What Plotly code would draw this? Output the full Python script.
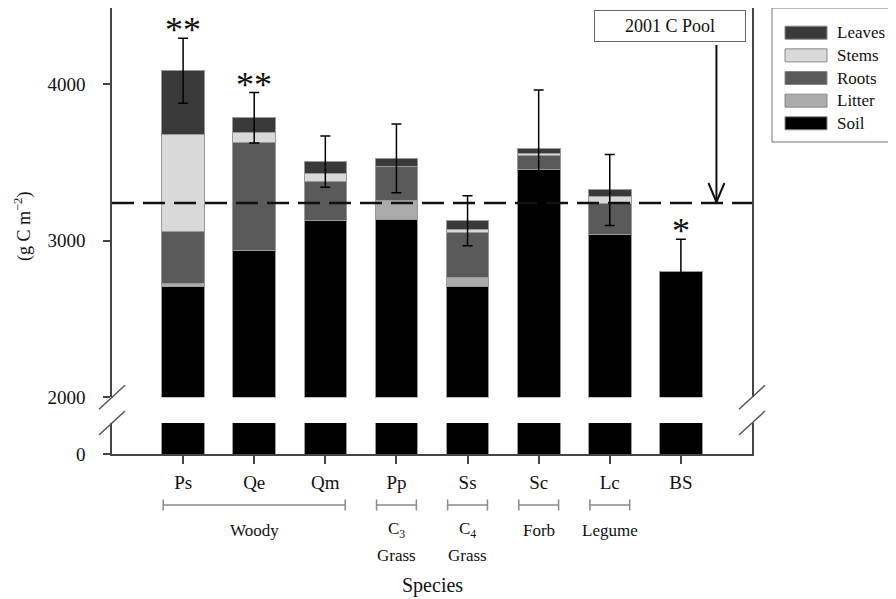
import plotly.graph_objects as go

# ---------------- data ----------------
species = ["Ps", "Qe", "Qm", "Pp", "Ss", "Sc", "Lc", "BS"]
soil   = [2706, 2934, 3131, 3136, 2710, 3451, 3040, 2802]
litter = [21, 0, 0, 117, 56, 0, 0, 0]
roots  = [334, 691, 248, 219, 284, 89, 198, 0]
stems  = [613, 66, 51, 0, 18, 17, 42, 0]
leaves = [410, 93, 74, 53, 59, 30, 43, 0]
errors = [208, 161, 164, 219, 160, 374, 227, 206]
signif = ["**", "**", "", "", "", "", "", "*"]
pool_2001 = 3240
pool_label = "2001 C Pool"

series_names = ["Soil", "Litter", "Roots", "Stems", "Leaves"]
series_values = [soil, litter, roots, stems, leaves]
series_colors = ["#000000", "#ababab", "#5a5a5a", "#d9d9d9", "#3a3a3a"]

groups = [
    ("Woody", "", "Ps", "Qm"),
    ("C<sub>3</sub>", "Grass", "Pp", "Pp"),
    ("C<sub>4</sub>", "Grass", "Ss", "Ss"),
    ("Forb", "", "Sc", "Sc"),
    ("Legume", "", "Lc", "Lc"),
]

# ---------------- layout geometry (page pixels; page has an 8px body margin) ----------------
OFF = 8
W, H = 896 - OFF, 599 - OFF
PLOT_L, PLOT_R, PLOT_T, PLOT_B = 112, 752, 8, 454
L, R, T, B = PLOT_L - OFF, 896 - PLOT_R, PLOT_T - OFF, 599 - PLOT_B
PW, PH = PLOT_R - PLOT_L, PLOT_B - PLOT_T
FONT = "Liberation Serif"
AX = "#444444"
TXT = "#111111"


def px(x):
    return (x - PLOT_L) / PW


def py(y):
    return (PLOT_B - y) / PH


Y2000_PX, PX_PER_UNIT = 397.3, 0.1567
up_dom = [py(Y2000_PX), 1.0]
lo_dom = [0.0, py(423)]
up_top = 2000 + (Y2000_PX - PLOT_T) / PX_PER_UNIT

totals = [sum(v[i] for v in series_values) for i in range(len(species))]

fig = go.Figure()

# upper panel stacked bars
for name, vals, col in zip(series_names, series_values, series_colors):
    fig.add_trace(go.Bar(
        x=species, y=vals, name=name, xaxis="x2", yaxis="y",
        marker=dict(color=col, line=dict(color="#9a9a9a", width=1)),
        width=0.6, showlegend=False,
    ))

# lower panel (soil continues below the break)
fig.add_trace(go.Bar(
    x=species, y=soil, xaxis="x", yaxis="y2",
    marker=dict(color="#000000", line=dict(color="#9a9a9a", width=1)),
    width=0.6, showlegend=False,
))

# error bars at totals
fig.add_trace(go.Scatter(
    x=species, y=totals, xaxis="x2", yaxis="y", mode="markers",
    marker=dict(size=1, opacity=0), showlegend=False,
    error_y=dict(type="data", array=errors, color="#000000", thickness=1.5, width=5),
))

shapes = []
annotations = []

# 2001 pool dashed line
shapes.append(dict(type="line", xref="x2 domain", x0=0, x1=1, yref="y",
                   y0=pool_2001, y1=pool_2001,
                   line=dict(color="#111111", width=2.5, dash="22px,9px")))

# arrow from the label box to the pool line
arrow_x = 7.5
shapes.append(dict(type="line", xref="x2", xsizemode="pixel", xanchor=arrow_x, x0=0, x1=0,
                   yref="y", ysizemode="pixel", yanchor=pool_2001, y0=1, y1=158,
                   line=dict(color="#111111", width=2)))
for dx in (-8, 8):
    shapes.append(dict(type="line", xref="x2", xsizemode="pixel", xanchor=arrow_x, x0=0, x1=dx,
                       yref="y", ysizemode="pixel", yanchor=pool_2001, y0=1, y1=20,
                       line=dict(color="#111111", width=2)))

annotations.append(dict(text=pool_label, xref="paper", yref="paper",
                        x=px(670), y=py(26.5), xanchor="center", yanchor="middle",
                        showarrow=False, width=148, height=28, borderpad=1,
                        bordercolor="#666666", borderwidth=1, bgcolor="white",
                        font=dict(family=FONT, size=18, color=TXT)))

# significance stars
for sp, tot, err, s in zip(species, totals, errors, signif):
    if s:
        annotations.append(dict(text=s, x=sp, y=tot + err, xref="x2", yref="y",
                                showarrow=False, xanchor="center", yanchor="middle", yshift=8,
                                font=dict(family=FONT, size=36, color=TXT)))

# axis break marks
for xa in (0, 1):
    for ya in (up_dom[0], lo_dom[1]):
        shapes.append(dict(type="line", xref="paper", xsizemode="pixel", xanchor=xa,
                           x0=-13, x1=13, yref="paper", ysizemode="pixel", yanchor=ya,
                           y0=-12, y1=12, line=dict(color="#555555", width=1.5)))

# group brackets and labels under the x axis
idx = {s: i for i, s in enumerate(species)}
pad = 0.28
for line1, line2, a, b in groups:
    x0, x1 = idx[a] - pad, idx[b] + pad
    shapes.append(dict(type="line", xref="x", x0=x0, x1=x1, yref="paper",
                       y0=py(505), y1=py(505), line=dict(color="#8a8a8a", width=1.5)))
    for xe in (x0, x1):
        shapes.append(dict(type="line", xref="x", x0=xe, x1=xe, yref="paper",
                           y0=py(499.5), y1=py(510.5), line=dict(color="#8a8a8a", width=1.5)))
    for txt, ypix in ((line1, 530), (line2, 555)):
        if txt:
            annotations.append(dict(text=txt, x=(x0 + x1) / 2, xref="x", y=py(ypix),
                                    yref="paper", xanchor="center", yanchor="middle",
                                    showarrow=False,
                                    font=dict(family=FONT, size=17, color=TXT)))

# axis titles
annotations.append(dict(text="Species", x=px(432), xref="paper", y=py(585), yref="paper",
                        xanchor="center", yanchor="middle",
                        showarrow=False, font=dict(family=FONT, size=20, color=TXT)))
annotations.append(dict(text="(g C m<sup>\u22122</sup>)", x=px(23), xref="paper",
                        y=py(227), yref="paper", textangle=-90, showarrow=False,
                        xanchor="center", yanchor="middle",
                        font=dict(family=FONT, size=18, color=TXT)))

# legend (manual, top-to-bottom Leaves .. Soil)
shapes.append(dict(type="rect", xref="paper", yref="paper",
                   x0=px(772), x1=px(900), y0=py(142), y1=py(8),
                   line=dict(color="#777777", width=1), fillcolor="white"))
leg_names = series_names[::-1]
leg_colors = series_colors[::-1]
for k, (nm, col) in enumerate(zip(leg_names, leg_colors)):
    yc = 32.7 + 22.65 * k
    shapes.append(dict(type="rect", xref="paper", yref="paper",
                       x0=px(785), x1=px(827), y0=py(yc + 6.5), y1=py(yc - 6.5),
                       fillcolor=col, line=dict(color="#888888", width=1)))
    annotations.append(dict(text=nm, xref="paper", yref="paper", x=px(835), y=py(yc),
                            xanchor="left", yanchor="middle", showarrow=False,
                            font=dict(family=FONT, size=17, color=TXT)))

fig.update_layout(
    width=W, height=H,
    margin=dict(l=L, r=R, t=T, b=B, pad=0),
    paper_bgcolor="white", plot_bgcolor="white",
    barmode="stack", bargap=0.4,
    font=dict(family=FONT, size=19, color=TXT),
    shapes=shapes, annotations=annotations,
    xaxis=dict(domain=[0, 1], anchor="y2", range=[-1, 8], type="category",
               categoryorder="array", categoryarray=species,
               showline=True, linecolor=AX, linewidth=1.5,
               ticks="outside", ticklen=8, tickcolor=AX, tickwidth=1.5,
               showgrid=False, zeroline=False, ticklabelstandoff=2,
               tickfont=dict(family=FONT, size=19, color=TXT)),
    xaxis2=dict(domain=[0, 1], anchor="y", matches="x", side="top",
                showline=True, linecolor=AX, linewidth=1.5,
                showticklabels=False, ticks="", showgrid=False, zeroline=False),
    yaxis=dict(domain=up_dom, anchor="x2", range=[2000, up_top],
               tickvals=[2000, 3000, 4000],
               showline=True, mirror=True, linecolor=AX, linewidth=1.5,
               ticks="outside", ticklen=7, tickcolor=AX, tickwidth=1.5,
               showgrid=False, zeroline=False, ticklabelstandoff=14,
               tickfont=dict(family=FONT, size=19, color=TXT)),
    yaxis2=dict(domain=lo_dom, anchor="x", range=[0, 400],
                tickvals=[0],
                showline=True, mirror=True, linecolor=AX, linewidth=1.5,
                ticks="outside", ticklen=7, tickcolor=AX, tickwidth=1.5,
                showgrid=False, zeroline=False, ticklabelstandoff=14,
                tickfont=dict(family=FONT, size=19, color=TXT)),
)

fig.write_html("out.html")
